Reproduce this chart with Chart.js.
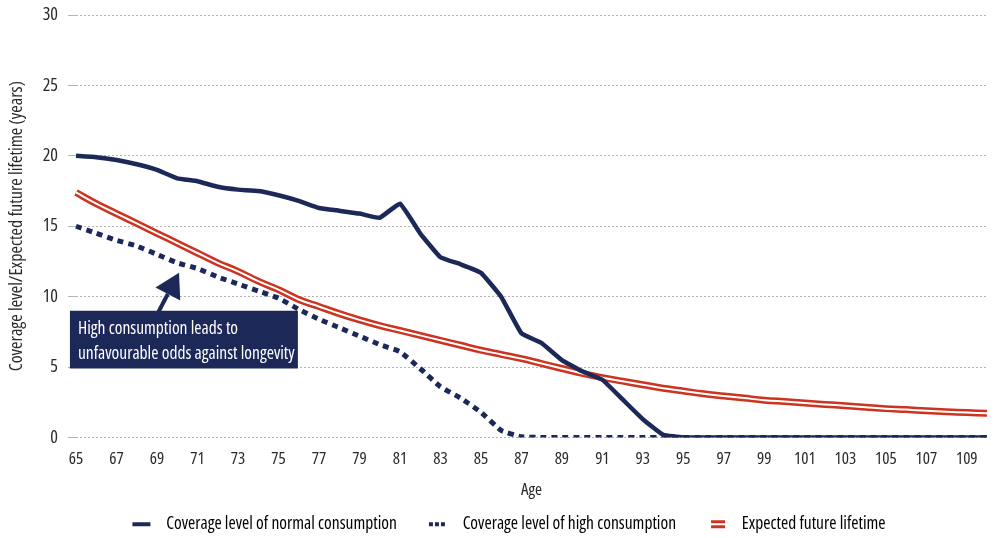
<!DOCTYPE html>
<html>
<head>
<meta charset="utf-8">
<script src="https://cdn.jsdelivr.net/npm/chart.js@4/dist/chart.umd.min.js"></script>
<style>
  html, body { margin: 0; padding: 0; background: #fff; }
  #wrap { width: 994px; height: 538px; }
</style>
</head>
<body>
<div id="wrap"><canvas id="c" width="994" height="538"></canvas></div>
<script>
var ages = [];
for (var a = 65; a <= 110; a++) ages.push(a);

var normalCoverage = [20.0, 19.9, 19.7, 19.4, 19.0, 18.4, 18.2, 17.8, 17.6, 17.5,
  17.2, 16.8, 16.3, 16.1, 15.9, 15.6, 16.6, 14.5, 12.8, 12.3,
  11.7, 10.0, 7.4, 6.7, 5.5, 4.7, 4.1, 2.7, 1.3, 0.2,
  0, 0, 0, 0, 0, 0, 0, 0, 0, 0, 0, 0, 0, 0, 0, 0];

var highCoverage = [15.0, 14.5, 14.0, 13.6, 13.0, 12.4, 12.0, 11.4, 10.9, 10.4,
  9.9, 9.1, 8.4, 7.8, 7.2, 6.6, 6.1, 4.9, 3.6, 2.8,
  1.8, 0.5, 0.05, 0, 0, 0, 0, 0, 0, 0,
  0, 0, 0, 0, 0, 0, 0, 0, 0, 0, 0, 0, 0, 0, 0, 0];

var lifeExpectancy = [17.4, 16.6, 15.9, 15.2, 14.5, 13.8, 13.1, 12.4, 11.8, 11.1,
  10.5, 9.8, 9.3, 8.8, 8.35, 7.95, 7.6, 7.25, 6.9, 6.55,
  6.2, 5.9, 5.6, 5.25, 4.9, 4.55, 4.25, 4.0, 3.75, 3.5,
  3.3, 3.1, 2.95, 2.8, 2.65, 2.55, 2.45, 2.35, 2.25, 2.15,
  2.05, 1.98, 1.9, 1.83, 1.77, 1.72];

var seriesNames = ['Coverage level of normal consumption', 'Coverage level of high consumption', 'Expected future lifetime'];
var noteLines = ['High consumption leads to', 'unfavourable odds against longevity'];

var NAVY = '#1b2858';
var RED = '#cc3320';
var INK = '#2a2a2a';
var FAMILY = '"Open Sans", sans-serif';

// legend icons, blank space on the left gives the gap before each item
function icon(kind) {
  var c = document.createElement('canvas');
  c.width = 56; c.height = 12;
  var g = c.getContext('2d');
  if (kind === 0) {
    g.fillStyle = NAVY; g.fillRect(31, 4, 18, 4);
  } else if (kind === 1) {
    g.fillStyle = NAVY;
    g.fillRect(31, 4, 4, 4); g.fillRect(37, 4, 4, 4); g.fillRect(43, 4, 4, 4);
  } else {
    g.fillStyle = RED; g.fillRect(34, 2, 14, 3); g.fillRect(34, 7, 14, 3);
  }
  return c;
}

var notePlugin = {
  id: 'note',
  afterDatasetsDraw: function (chart) {
    var x = chart.scales.x, y = chart.scales.y, ctx = chart.ctx;
    var left = x.getPixelForValue(-0.3), right = x.getPixelForValue(10.96);
    var top = y.getPixelForValue(9.0), bottom = y.getPixelForValue(4.9);
    ctx.save();
    // arrow
    var tx = x.getPixelForValue(5.09), ty = y.getPixelForValue(11.7);
    var sx = x.getPixelForValue(4.05), sy = top + 2;
    var ang = Math.atan2(ty - sy, tx - sx);
    ctx.strokeStyle = NAVY; ctx.fillStyle = NAVY; ctx.lineWidth = 4;
    var hx = tx - Math.cos(ang) * 24, hy = ty - Math.sin(ang) * 24;
    ctx.beginPath(); ctx.moveTo(sx, sy); ctx.lineTo(hx, hy); ctx.stroke();
    ctx.beginPath();
    ctx.moveTo(tx, ty);
    ctx.lineTo(hx + Math.cos(ang + Math.PI / 2) * 14, hy + Math.sin(ang + Math.PI / 2) * 14);
    ctx.lineTo(hx + Math.cos(ang - Math.PI / 2) * 14, hy + Math.sin(ang - Math.PI / 2) * 14);
    ctx.closePath(); ctx.fill();
    // box
    ctx.fillRect(left, top, right - left, bottom - top);
    ctx.fillStyle = '#ffffff';
    ctx.font = 'condensed 17.5px ' + FAMILY;
    ctx.textBaseline = 'middle';
    var mid = (top + bottom) / 2;
    ctx.fillText(noteLines[0], left + 8, mid - 11);
    ctx.fillText(noteLines[1], left + 8, mid + 14);
    ctx.restore();
  }
};

new Chart(document.getElementById('c'), {
  type: 'line',
  data: {
    labels: ages,
    datasets: [
      { label: seriesNames[0], data: normalCoverage, borderColor: NAVY, borderWidth: 4.5, pointRadius: 0, tension: 0.1, borderJoinStyle: 'round' },
      { label: seriesNames[1], data: highCoverage, borderColor: NAVY, borderWidth: 5, borderDash: [6, 5], pointRadius: 0, tension: 0.1 },
      { label: 'gap', data: lifeExpectancy, borderColor: '#ffffff', borderWidth: 2, pointRadius: 0, tension: 0.4 },
      { label: seriesNames[2], data: lifeExpectancy, borderColor: RED, borderWidth: 7, pointRadius: 0, tension: 0.4 }
    ]
  },
  options: {
    responsive: false,
    animation: false,
    layout: { padding: { left: 0, right: 7, top: 15, bottom: -5 } },
    plugins: {
      tooltip: { enabled: false },
      legend: {
        position: 'bottom',
        labels: {
          usePointStyle: true,
          pointStyleWidth: 56,
          padding: 1,
          color: INK,
          font: { family: FAMILY, size: 17.5, weight: 'condensed' },
          generateLabels: function () {
            return [0, 1, 2].map(function (i) {
              return { text: seriesNames[i], pointStyle: icon(i), fillStyle: NAVY, strokeStyle: NAVY, lineWidth: 0, hidden: false, datasetIndex: i };
            });
          }
        }
      }
    },
    scales: {
      x: {
        offset: false,
        grid: { display: false },
        border: { display: false },
        afterFit: function (s) { s.height = 77; },
        title: { display: true, text: 'Age', color: INK, font: { family: FAMILY, size: 17, weight: '500 condensed' }, padding: { top: 0, bottom: 14 } },
        ticks: {
          autoSkip: false, maxRotation: 0, color: INK, padding: 3,
          font: { family: FAMILY, size: 17, weight: '500 condensed' },
          callback: function (v, i) { return i % 2 === 0 && i < ages.length - 1 ? ages[i] : ''; }
        }
      },
      y: {
        min: 0, max: 30,
        afterFit: function (s) { s.width = 76; s.paddingTop = 0; s.paddingBottom = 0; },
        border: { display: false, dash: [2, 2] },
        grid: { color: '#b4b4b4', lineWidth: 1, tickLength: 8, drawTicks: true },
        title: { display: true, text: 'Coverage level/Expected future lifetime (years)', color: INK, font: { family: FAMILY, size: 18, weight: '500 condensed' }, padding: { top: 6, bottom: 0 } },
        ticks: { stepSize: 5, color: INK, padding: 10, font: { family: FAMILY, size: 18, weight: '500 condensed' } }
      }
    }
  },
  plugins: [notePlugin]
});
</script>
</body>
</html>
